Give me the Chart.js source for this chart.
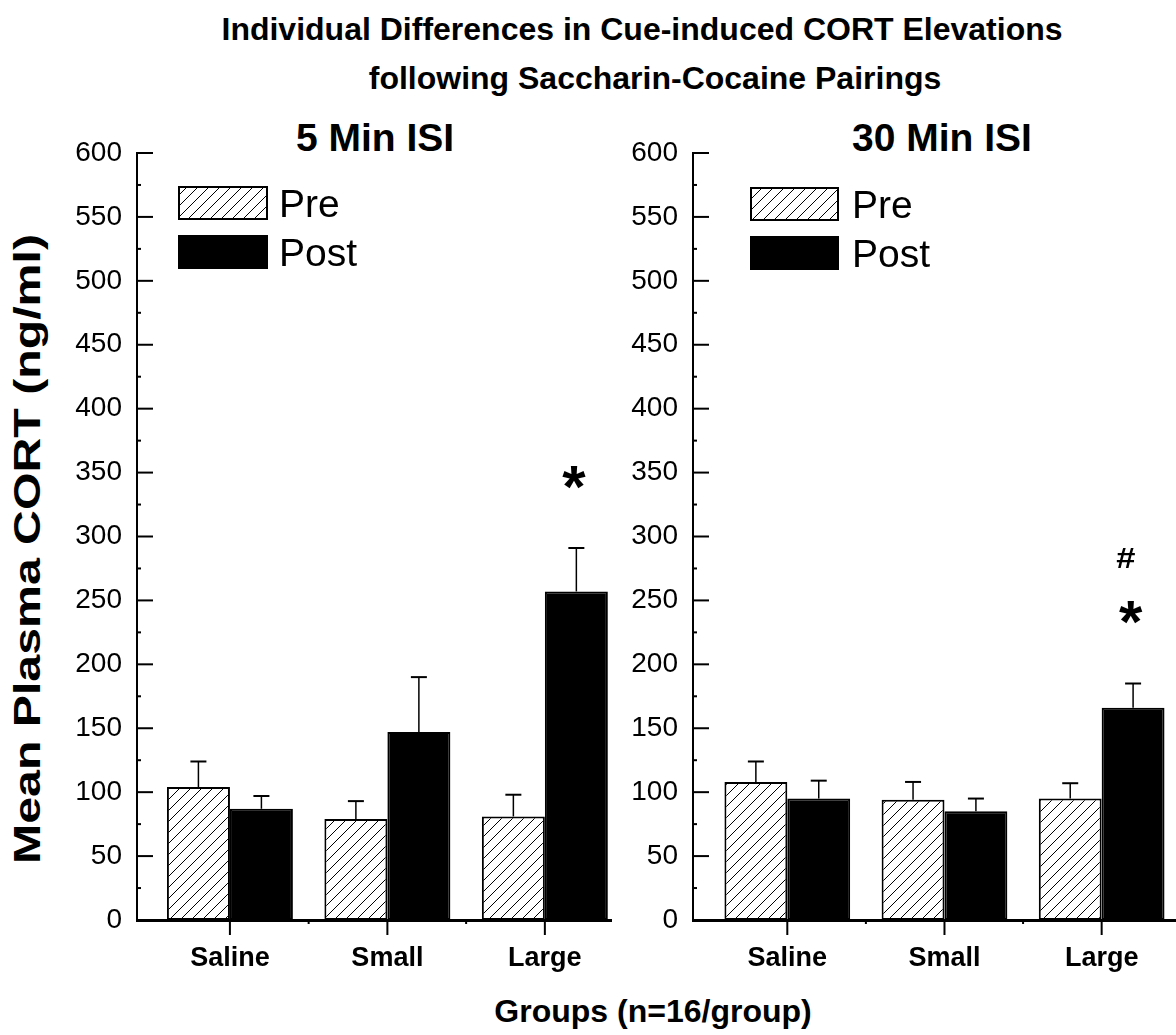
<!DOCTYPE html>
<html>
<head>
<meta charset="utf-8">
<title>Cue-induced CORT Elevations</title>
<script src="https://cdn.jsdelivr.net/npm/chart.js@4.4.1/dist/chart.umd.min.js"></script>
<style>
  html, body { margin: 0; padding: 0; background: #fff; }
  body { width: 1176px; height: 1035px; position: relative; overflow: hidden;
         font-family: "Liberation Sans", Arial, sans-serif; color: #000; }
  .txt { position: absolute; font-weight: bold; white-space: nowrap; line-height: 1;
         transform: translate(-50%, -50%); }
  .panel { position: absolute; top: 0; height: 1035px; }
  #wrap5 { left: 0; width: 620px; }
  #wrap30 { left: 620px; width: 556px; }
</style>
</head>
<body>
<div class="txt" style="left:642px;top:29px;font-size:32px;">Individual Differences in Cue-induced CORT Elevations</div>
<div class="txt" style="left:655px;top:78px;font-size:32px;">following Saccharin-Cocaine Pairings</div>
<div class="txt" style="left:375px;top:137px;font-size:39px;">5 Min ISI</div>
<div class="txt" style="left:942px;top:137px;font-size:39px;">30 Min ISI</div>
<div class="txt" style="left:653px;top:1011px;font-size:32px;">Groups (n=16/group)</div>
<div class="txt" style="left:28px;top:549px;font-size:36px;transform:translate(-50%,-50%) rotate(-90deg) scaleX(1.34);">Mean Plasma CORT (ng/ml)</div>
<div class="panel" id="wrap5"><canvas id="c5"></canvas></div>
<div class="panel" id="wrap30"><canvas id="c30"></canvas></div>

<script>
// Groups and series
const groups = ['Saline', 'Small', 'Large'];
const seriesNames = ['Pre', 'Post'];

// 5 min ISI: means and SEM (ng/ml)
const pre5 = [104, 79, 81];
const pre5Sem = [20, 14, 17];
const post5 = [87, 147, 257];
const post5Sem = [10, 43, 34];
const post5Marks = [[], [], ['*']];

// 30 min ISI: means and SEM (ng/ml)
const pre30 = [108, 94, 95];
const pre30Sem = [16, 14, 12];
const post30 = [95, 85, 166];
const post30Sem = [14, 10, 19];
const post30Marks = [[], [], ['*', '#']];

// y axis range and tick spacing
const yMin = 0, yMax = 600, yStep = 50;

const FONT = '"Liberation Sans", Arial, sans-serif';

// diagonal "/" hatch used for the Pre bars
function makeHatch(ctx) {
  const s = 11;
  const tile = document.createElement('canvas');
  tile.width = s; tile.height = s;
  const g = tile.getContext('2d');
  g.fillStyle = '#fff';
  g.fillRect(0, 0, s, s);
  g.strokeStyle = '#000';
  g.lineWidth = 1;
  g.beginPath();
  g.moveTo(0, s); g.lineTo(s, 0);
  g.moveTo(-1, 1); g.lineTo(1, -1);
  g.moveTo(s - 1, s + 1); g.lineTo(s + 1, s - 1);
  g.stroke();
  return ctx.createPattern(tile, 'repeat');
}

function strokeLine(ctx, x1, y1, x2, y2, w) {
  ctx.lineWidth = w;
  ctx.beginPath();
  ctx.moveTo(x1, y1);
  ctx.lineTo(x2, y2);
  ctx.stroke();
}

// inward major/minor ticks on y, hanging ticks on x
const axisTicks = {
  id: 'axisTicks',
  afterDraw(chart) {
    const { ctx, chartArea: a, scales: { x, y } } = chart;
    ctx.save();
    ctx.strokeStyle = '#000';
    y.ticks.forEach((t, i) => {
      const py = y.getPixelForValue(t.value);
      strokeLine(ctx, a.left, py, a.left + 16, py, 2);
      if (i < y.ticks.length - 1) {
        const my = y.getPixelForValue((t.value + y.ticks[i + 1].value) / 2);
        strokeLine(ctx, a.left - 1, my, a.left + 4, my, 2);
      }
    });
    x.ticks.forEach((t, i) => {
      const px = x.getPixelForValue(t.value);
      strokeLine(ctx, px, a.bottom, px, a.bottom + 15, 2);
      if (i < x.ticks.length - 1) {
        const mx = x.getPixelForValue((t.value + x.ticks[i + 1].value) / 2);
        strokeLine(ctx, mx, a.bottom, mx, a.bottom + 4, 2);
      }
    });
    ctx.restore();
  }
};

// upward SEM bars plus significance marks stacked above the cap
const markStyle = {
  '*': { font: 'bold 60px ' + FONT, rise: 71, dx: -2, sx: 1 },
  '#': { font: 'bold 30px ' + FONT, rise: 126, dx: -7, sx: 1.15 }
};
const errorBars = {
  id: 'errorBars',
  afterDatasetsDraw(chart) {
    const ctx = chart.ctx;
    const y = chart.scales.y;
    ctx.save();
    ctx.strokeStyle = '#000';
    ctx.fillStyle = '#000';
    chart.data.datasets.forEach((ds, di) => {
      const meta = chart.getDatasetMeta(di);
      meta.data.forEach((bar, i) => {
        const top = y.getPixelForValue(ds.data[i].y + ds.sem[i]);
        strokeLine(ctx, bar.x, bar.y, bar.x, top, 1.5);
        strokeLine(ctx, bar.x - 8, top, bar.x + 8, top, 2);
        (ds.marks[i] || []).forEach(m => {
          const st = markStyle[m];
          ctx.font = st.font;
          const mt = ctx.measureText(m);
          const inkW = mt.actualBoundingBoxLeft + mt.actualBoundingBoxRight;
          const inkMid = (mt.actualBoundingBoxAscent - mt.actualBoundingBoxDescent) / 2;
          ctx.save();
          ctx.translate(bar.x + st.dx, top - st.rise + inkMid);
          ctx.scale(st.sx, 1);
          ctx.textBaseline = 'alphabetic';
          ctx.textAlign = 'left';
          ctx.fillText(m, -inkW / 2 + mt.actualBoundingBoxLeft, 0);
          ctx.restore();
        });
      });
    });
    ctx.restore();
  }
};

// legend: hatched / solid swatches with series names
const boxLegend = {
  id: 'boxLegend',
  afterDraw(chart, args, opts) {
    const ctx = chart.ctx;
    ctx.save();
    chart.data.datasets.forEach((ds, i) => {
      const bx = opts.x, by = opts.y + i * (opts.h + opts.gap);
      ctx.fillStyle = ds.backgroundColor;
      ctx.fillRect(bx, by, opts.w, opts.h);
      ctx.strokeStyle = '#000';
      ctx.lineWidth = 2;
      ctx.strokeRect(bx + 1, by + 1, opts.w - 2, opts.h - 2);
      ctx.fillStyle = '#000';
      ctx.font = '39px ' + FONT;
      ctx.textAlign = 'left';
      ctx.textBaseline = 'alphabetic';
      ctx.fillText(ds.label, bx + opts.w + opts.textGap, by + opts.h - 3);
    });
    ctx.restore();
  }
};

function panelChart(canvasId, pre, preSem, post, postSem, postMarks, geo) {
  const ctx = document.getElementById(canvasId).getContext('2d');
  return new Chart(ctx, {
    type: 'bar',
    data: {
      datasets: [
        {
          label: seriesNames[0],
          data: groups.map((g, i) => ({ x: i + 1, y: pre[i] })),
          sem: preSem,
          marks: groups.map(() => []),
          backgroundColor: makeHatch(ctx),
          borderColor: '#000',
          borderWidth: 2,
          borderSkipped: false
        },
        {
          label: seriesNames[1],
          data: groups.map((g, i) => ({ x: i + 1, y: post[i] })),
          sem: postSem,
          marks: postMarks,
          backgroundColor: '#000',
          borderColor: '#000',
          borderWidth: 2,
          borderSkipped: false
        }
      ]
    },
    options: {
      responsive: true,
      maintainAspectRatio: false,
      animation: false,
      events: [],
      categoryPercentage: 0.8,
      barPercentage: 1.0,
      layout: { padding: geo.padding },
      plugins: {
        legend: { display: false },
        tooltip: { enabled: false },
        title: { display: false },
        boxLegend: geo.legend
      },
      scales: {
        x: {
          type: 'linear',
          min: geo.xMin,
          max: geo.xMax,
          offset: false,
          grid: { display: false, drawTicks: false, offset: false },
          border: { display: true, color: '#000', width: 3 },
          afterBuildTicks: s => { s.ticks = groups.map((g, i) => ({ value: i + 1 })); },
          afterFit: s => { s.height = 60; },
          ticks: {
            autoSkip: false,
            maxRotation: 0,
            padding: 22,
            color: '#000',
            font: { family: FONT, size: 27, weight: 'bold' },
            callback: v => groups[Math.round(v) - 1] || ''
          }
        },
        y: {
          min: yMin,
          max: yMax,
          grid: { display: false, drawTicks: false },
          border: { display: true, color: '#000', width: 2 },
          afterFit: s => { s.width = geo.yWidth; },
          ticks: {
            stepSize: yStep,
            padding: 15,
            color: '#000',
            font: { family: FONT, size: 28 }
          }
        }
      }
    },
    plugins: [errorBars, axisTicks, boxLegend]
  });
}

panelChart('c5', pre5, pre5Sem, post5, post5Sem, post5Marks, {
  padding: { left: 0, top: 153, right: 9, bottom: 55 },
  yWidth: 137,
  xMin: 0.41, xMax: 3.42,
  legend: { x: 178, y: 186, w: 90, h: 34, gap: 15, textGap: 11 }
});

panelChart('c30', pre30, pre30Sem, post30, post30Sem, post30Marks, {
  padding: { left: 0, top: 153, right: 0, bottom: 55 },
  yWidth: 73,
  xMin: 0.40, xMax: 3.473,
  legend: { x: 130, y: 187, w: 89, h: 34, gap: 15, textGap: 13 }
});
</script>
</body>
</html>
